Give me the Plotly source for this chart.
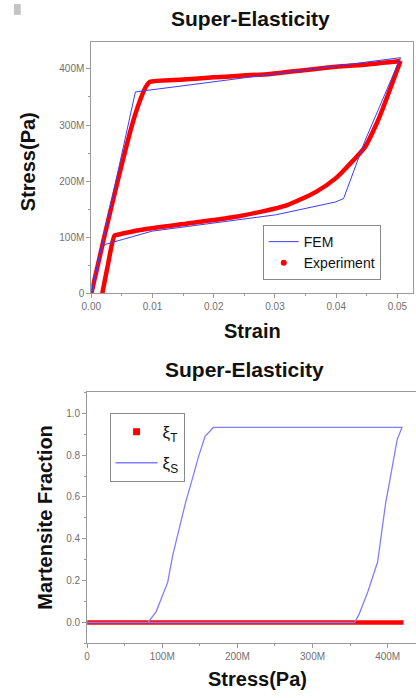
import plotly.graph_objects as go

# ---------------- data: top chart (stress-strain) ----------------
exp_load_strain = [0.0, 0.0021, 0.0043, 0.00665, 0.008, 0.0089, 0.0096,
                   0.015, 0.02, 0.0292, 0.035, 0.04, 0.045, 0.0505]
exp_load_stress_M = [0, 100, 200, 300, 345, 368, 377,
                     381, 385, 391, 398, 404, 408, 414]
exp_unload_strain = [0.0505, 0.0490, 0.0476, 0.0467, 0.0447, 0.042, 0.0399, 0.0367,
                     0.0319, 0.0239, 0.016, 0.008, 0.0045, 0.0038, 0.00266, 0.0018]
exp_unload_stress_M = [414, 370, 329, 305, 261, 228, 205, 181,
                       157, 137, 125, 113, 105, 103, 48, 0]

fem_strain = [0.0, 0.0072, 0.0505, 0.0447, 0.0412, 0.0399, 0.0301, 0.02, 0.00995,
              0.00506, 0.0025, 0.0016, 0.0]
fem_stress_M = [0, 359, 420, 272, 169, 163, 140, 126, 111, 96, 88, 82, 0]

# ---------------- data: bottom chart (martensite fraction) ----------------
xiS_stress_M = [0, 356, 362, 373.6, 386.6, 397.4, 403.9, 412.6, 419,
                168, 157, 148.5, 139.9, 131, 122.5, 113.9, 107.4, 92, 81, 0]
xiS_frac = [0, 0, 0.04, 0.147, 0.289, 0.573, 0.70, 0.874, 0.932,
            0.932, 0.89, 0.795, 0.684, 0.573, 0.447, 0.321, 0.194, 0.052, 0, 0]
xiT_stress_M = [0, 421]
xiT_frac = [0, 0]

# ---------------- tick labels ----------------
strain_ticks = [0.0, 0.01, 0.02, 0.03, 0.04, 0.05]
strain_labels = ["0.00", "0.01", "0.02", "0.03", "0.04", "0.05"]
stress_ticks_M = [0, 100, 200, 300, 400]
stress_labels = ["0", "100M", "200M", "300M", "400M"]
frac_ticks = [0.0, 0.2, 0.4, 0.6, 0.8, 1.0]
frac_labels = ["0.0", "0.2", "0.4", "0.6", "0.8", "1.0"]

M = 1e6
W, H = 416, 698
RED = "#ff0000"

fig = go.Figure()

# top chart
for xs, ys in [(exp_load_strain, exp_load_stress_M), (exp_unload_strain, exp_unload_stress_M)]:
    fig.add_trace(go.Scatter(x=xs, y=[v * M for v in ys], mode="lines",
                             line=dict(color=RED, width=4.5, shape="spline", smoothing=0.6),
                             showlegend=False, xaxis="x", yaxis="y", hoverinfo="skip"))
fig.add_trace(go.Scatter(x=fem_strain, y=[v * M for v in fem_stress_M], mode="lines",
                         line=dict(color="#3c3cff", width=1), name="FEM",
                         xaxis="x", yaxis="y", legend="legend", legendrank=1))
fig.add_trace(go.Scatter(x=[None], y=[None], mode="markers",
                         marker=dict(color=RED, size=6, symbol="circle"),
                         name="Experiment", xaxis="x", yaxis="y", legend="legend",
                         legendrank=2))

# bottom chart
fig.add_trace(go.Scatter(x=[v * M for v in xiT_stress_M], y=xiT_frac, mode="lines",
                         line=dict(color=RED, width=4.5), showlegend=False,
                         xaxis="x2", yaxis="y2", hoverinfo="skip"))
fig.add_trace(go.Scatter(x=[v * M for v in xiS_stress_M], y=xiS_frac, mode="lines",
                         line=dict(color="#7f7fff", width=1.3),
                         name="ξ<sub>S</sub>",
                         xaxis="x2", yaxis="y2", legend="legend2", legendrank=2,
                         legendgroup="s"))
fig.add_trace(go.Scatter(x=[None], y=[None], mode="markers",
                         marker=dict(color=RED, size=7, symbol="square"),
                         name="ξ<sub>T</sub>", xaxis="x2", yaxis="y2",
                         legend="legend2", legendrank=1, legendgroup="t"))

axis_common = dict(showgrid=False, zeroline=False, showline=True, linecolor="#9a9a9a",
                   linewidth=1, ticks="outside", ticklen=4, tickcolor="#9a9a9a",
                   tickfont=dict(family="Liberation Sans, Arial", size=10, color="#707070"))

def minor(d):
    return dict(dtick=d, ticks="outside", ticklen=2, tickcolor="#9a9a9a")

top_x = [83.3 / W, 413.3 / W]
top_y = [1 - 296 / H, 1 - 42.3 / H]
bot_x = [79 / W, 1.0]
bot_y = [1 - 649 / H, 1 - 395.7 / H]

fig.update_layout(
    width=W, height=H, margin=dict(l=0, r=0, t=0, b=0),
    paper_bgcolor="white", plot_bgcolor="white",
    font=dict(family="Liberation Sans, Arial", color="#111"),
    xaxis=dict(domain=top_x, range=[0, 0.0526], tickvals=strain_ticks,
               ticktext=strain_labels, mirror=True, minor=minor(0.005),
               anchor="y", **axis_common),
    yaxis=dict(domain=top_y, range=[0, 448 * M], tickvals=[v * M for v in stress_ticks_M],
               ticktext=stress_labels, mirror=True, minor=minor(50 * M),
               anchor="x", **axis_common),
    xaxis2=dict(domain=bot_x, range=[0, 437.7 * M], tickvals=[v * M for v in stress_ticks_M],
                ticktext=stress_labels, mirror=True, minor=minor(50 * M),
                anchor="y2", **axis_common),
    yaxis2=dict(domain=bot_y, range=[-0.1, 1.1], tickvals=frac_ticks, ticktext=frac_labels,
                mirror=False, minor=minor(0.1), anchor="x2", **axis_common),
    legend=dict(x=259 / W, y=1 - 227 / H, xanchor="left", yanchor="top",
                bgcolor="white", bordercolor="#8a8a8a", borderwidth=1,
                font=dict(family="Liberation Sans, Arial", size=14, color="#111"),
                tracegroupgap=0),
    legend2=dict(x=102 / W, y=1 - 416.7 / H, xanchor="left", yanchor="top",
                 bgcolor="white", bordercolor="#8a8a8a", borderwidth=1,
                 font=dict(family="Liberation Sans, Arial", size=17, color="#111"),
                 tracegroupgap=6, itemwidth=42),
    shapes=[dict(type="rect", xref="paper", yref="paper", x0=4 / W, x1=11 / W,
                 y0=1 - 15 / H, y1=1 - 4 / H, fillcolor="#c4c4c4", line=dict(width=0))],
)

title_font = dict(family="Liberation Sans, Arial", size=21, color="#111")
label_font = dict(family="Liberation Sans, Arial", size=20, color="#111")

def ann(text, x, y, font, angle=0):
    fig.add_annotation(text="<b>" + text + "</b>", x=x / W, y=1 - y / H, xref="paper",
                       yref="paper", showarrow=False, xanchor="center", yanchor="middle",
                       font=font, textangle=angle)

ann("Super-Elasticity", 246, 19, title_font)
ann("Super-Elasticity", 240, 373, title_font)
ann("Strain", 248, 334, label_font)
ann("Stress(Pa)", 18, 163, label_font, -90)
ann("Stress(Pa)", 254, 685, label_font)
ann("Martensite Fraction", 35, 522, label_font, -90)

fig.write_html("out.html", post_script="document.body.style.margin='0';")
